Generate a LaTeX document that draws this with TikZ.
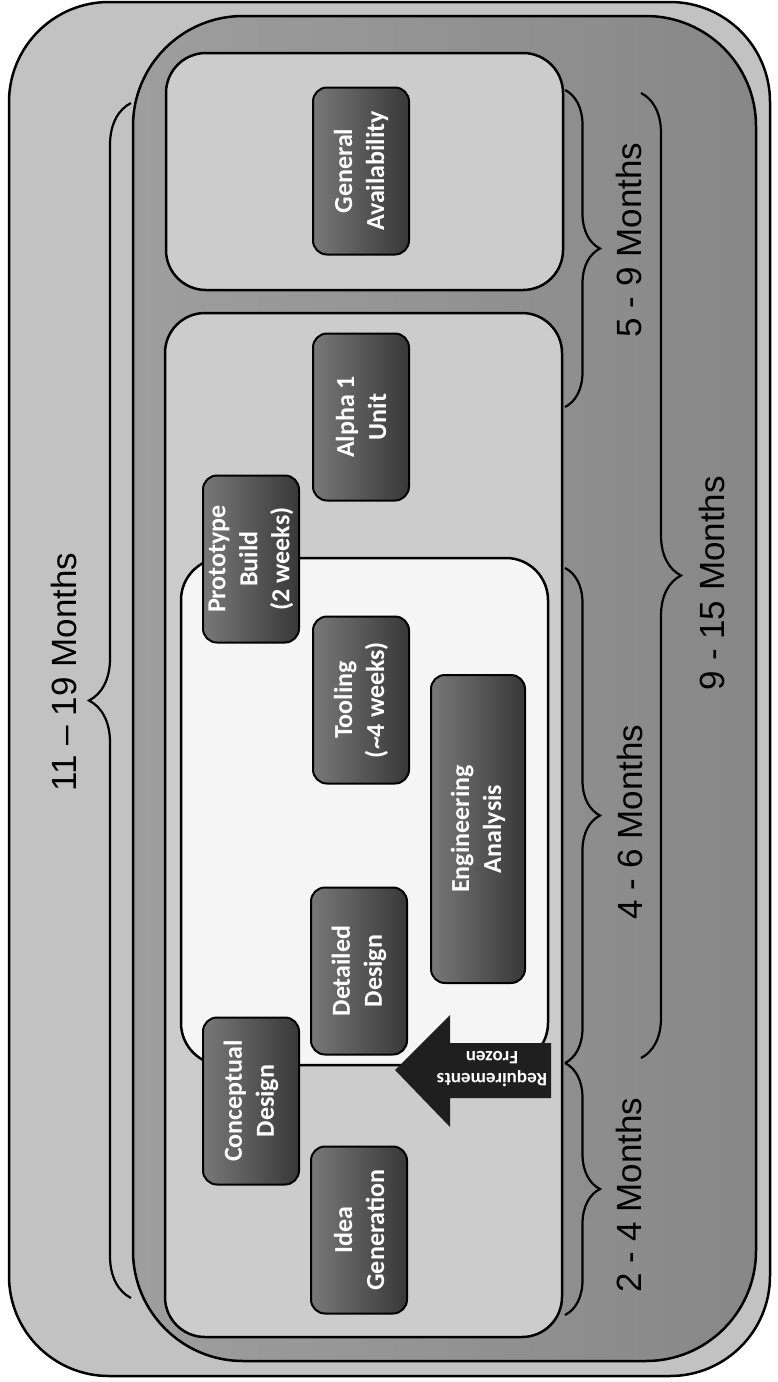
\documentclass[tikz,border=0pt]{standalone}
\usepackage{fontspec}
\setmainfont{Liberation Sans}
\newfontfamily\calib{Carlito}
\usetikzlibrary{decorations.pathreplacing}
\definecolor{outerbg}{gray}{0.76}
\definecolor{midbg}{gray}{0.62}
\definecolor{middark}{gray}{0.53}
\definecolor{phasebg}{gray}{0.80}
\definecolor{whitebg}{gray}{0.96}
\definecolor{nodetop}{gray}{0.47}
\definecolor{nodebot}{gray}{0.22}
\begin{document}
\begin{tikzpicture}[x=1pt,y={(0pt,-1pt)},
  frame/.style={draw=black,line width=2.5pt},
  darkbox/.style={draw=black,line width=2pt,rounded corners=14pt,
    left color=nodetop,right color=nodebot,text=white,align=center,
    font=\calib\bfseries\fontsize{26}{32}\selectfont,
    minimum width=167pt,minimum height=96pt,inner sep=0pt,rotate=90},
  months/.style={font=\fontsize{35}{40}\selectfont,rotate=90,inner sep=0pt},
  brc/.style={decorate,decoration={brace,amplitude=#1},line width=2.2pt}]
\useasboundingbox (0,0) rectangle (778,1382);
% outer frame
\fill[white] (0,0) rectangle (778,1382);
\draw[frame,fill=outerbg,rounded corners=100pt] (9,2) rectangle (770,1376);
% 9-15 months container
\draw[frame,left color=midbg,right color=middark,rounded corners=110pt] (133,16) rectangle (756,1361);
% phase boxes
\draw[frame,fill=phasebg,rounded corners=40pt] (166,53) rectangle (563,290);
\draw[frame,fill=phasebg,rounded corners=40pt] (165,313) rectangle (562,1337);
% design phase (white)
\draw[frame,fill=whitebg,rounded corners=42pt] (181,558) rectangle (548,1065);
% braces
\coordinate (b59a) at (565,90);    \coordinate (b59b) at (565,407);
\coordinate (b46a) at (565,568);   \coordinate (b46b) at (565,1063);
\coordinate (b24a) at (565,1063);  \coordinate (b24b) at (565,1315);
\coordinate (b915a) at (641,93);   \coordinate (b915b) at (641,1058);
\coordinate (b1119a) at (131,1298); \coordinate (b1119b) at (131,103);
\draw[brc=35pt] (b59a) -- (b59b);
\draw[brc=35pt] (b46a) -- (b46b);
\draw[brc=35pt] (b24a) -- (b24b);
\draw[brc=40pt] (b915a) -- (b915b);
\draw[brc=42pt] (b1119a) -- (b1119b);
% labels
\node[months] (l1119) at (64,672) {11 – 19 Months};
\node[months] (l59) at (629,240) {5 - 9 Months};
\node[months] (l46) at (630,822) {4 - 6 Months};
\node[months] (l24) at (629,1195) {2 - 4 Months};
\node[months] (l915) at (712,583) {9 - 15 Months};
% dark task nodes
\node[darkbox] (ga) at (361,171) {General\\Availability};
\node[darkbox] (alpha) at (361,417) {Alpha 1\\Unit};
\node[darkbox] (proto) at (251,559) {Prototype\\Build\\(2 weeks)};
\node[darkbox] (tool) at (361,700) {Tooling\\(\textasciitilde4 weeks)};
\node[darkbox,minimum width=308pt,minimum height=94pt] (eng) at (478,829) {Engineering\\Analysis};
\node[darkbox] (det) at (359,971) {Detailed\\Design};
\node[darkbox] (con) at (251,1101) {Conceptual\\Design};
\node[darkbox] (idea) at (359,1230) {Idea\\Generation};
% requirements frozen arrow
\fill[black!88] (395,1070) -- (450,1015) -- (450,1043) -- (551,1043) -- (551,1098)
  -- (450,1098) -- (450,1127) -- cycle;
\node[rotate=180,text=white,align=center,inner sep=0pt,
  font=\calib\bfseries\fontsize{19}{22}\selectfont] (req) at (492,1069) {Requirements\\Frozen};
\end{tikzpicture}
\end{document}
